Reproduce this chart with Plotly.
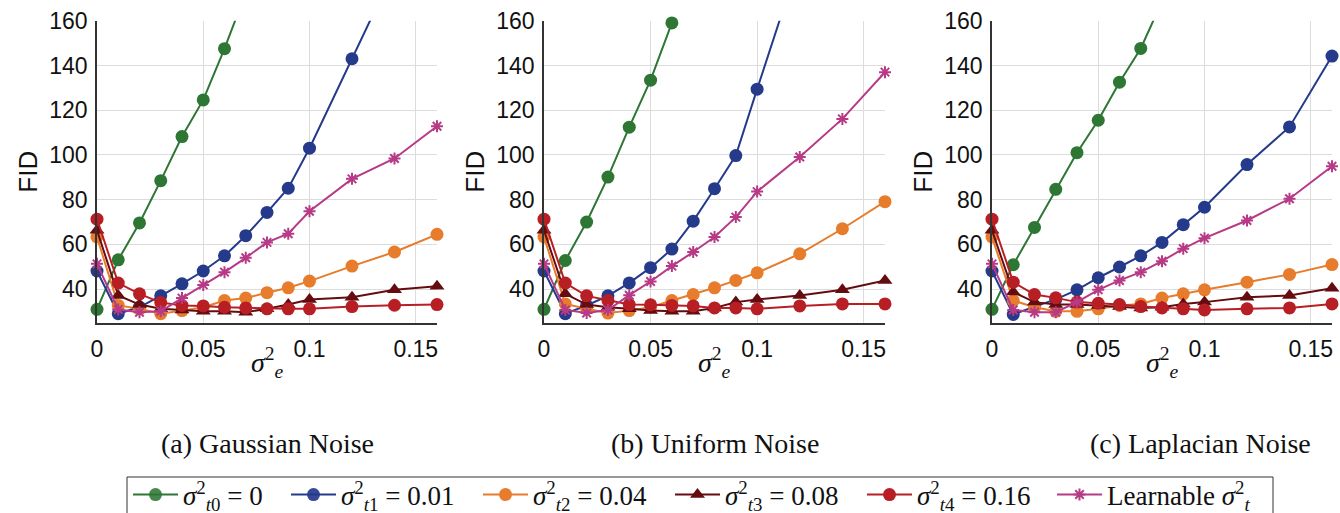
import plotly.graph_objects as go

# ---------------- data ----------------
X = [0, 0.01, 0.02, 0.03, 0.04, 0.05, 0.06, 0.07, 0.08, 0.09, 0.10, 0.12, 0.14, 0.16]

series_names = [
    "<i>σ</i><sup>2</sup><sub><i>t</i>0</sub> = 0",
    "<i>σ</i><sup>2</sup><sub><i>t</i>1</sub> = 0.01",
    "<i>σ</i><sup>2</sup><sub><i>t</i>2</sub> = 0.04",
    "<i>σ</i><sup>2</sup><sub><i>t</i>3</sub> = 0.08",
    "<i>σ</i><sup>2</sup><sub><i>t</i>4</sub> = 0.16",
    "Learnable <i>σ</i><sup>2</sup><sub><i>t</i></sub>",
]

# (a) Gaussian noise
gauss_t0 = [31.0, 53.1, 69.6, 88.5, 108.2, 124.6, 147.5, 172.5]
gauss_t1 = [48.1, 29.0, 32.0, 37.0, 42.4, 48.1, 54.9, 63.9, 74.3, 85.1, 103.0, 143.0, 183.0]
gauss_t2 = [63.3, 32.7, 31.2, 29.0, 30.4, 31.9, 34.9, 36.0, 38.4, 40.6, 43.6, 50.3, 56.6, 64.5]
gauss_t3 = [66.3, 37.2, 33.1, 31.2, 30.7, 30.1, 30.1, 29.7, 31.2, 33.1, 35.4, 36.4, 39.7, 41.3]
gauss_t4 = [71.3, 42.7, 37.9, 34.0, 32.7, 32.5, 31.9, 31.6, 31.2, 31.2, 31.2, 32.2, 32.8, 33.1]
gauss_lr = [51.3, 30.9, 29.7, 30.1, 36.0, 41.9, 47.6, 54.0, 60.9, 64.8, 74.8, 89.3, 98.4, 112.8]

# (b) Uniform noise
unif_t0 = [31.0, 52.8, 70.0, 90.1, 112.4, 133.4, 159.0, 185.0]
unif_t1 = [48.1, 29.0, 32.7, 37.0, 42.8, 49.6, 57.9, 70.4, 84.9, 99.7, 129.4, 187.7]
unif_t2 = [63.3, 33.4, 31.2, 29.3, 30.4, 31.9, 34.9, 37.6, 40.6, 43.9, 47.3, 55.8, 67.0, 79.1]
unif_t3 = [66.3, 37.9, 33.1, 31.9, 31.2, 30.4, 30.1, 30.1, 31.6, 34.2, 35.4, 37.2, 39.7, 43.9]
unif_t4 = [71.3, 42.7, 37.0, 34.9, 33.1, 33.0, 32.7, 32.5, 31.6, 31.6, 31.2, 32.5, 33.4, 33.4]
unif_lr = [51.3, 30.7, 29.3, 30.7, 37.3, 43.4, 50.3, 56.6, 63.3, 72.2, 83.6, 99.1, 116.1, 137.0]

# (c) Laplacian noise
lap_t0 = [31.0, 50.9, 67.6, 84.6, 101.0, 115.5, 132.5, 147.6, 168.6]
lap_t1 = [48.1, 28.7, 32.2, 35.4, 39.7, 45.1, 49.9, 54.9, 60.9, 68.8, 76.6, 95.7, 112.5, 144.2]
lap_t2 = [63.3, 34.9, 31.9, 30.1, 30.1, 31.2, 32.7, 33.4, 36.0, 37.9, 39.7, 43.1, 46.6, 51.0]
lap_t3 = [66.3, 38.7, 34.2, 33.1, 33.1, 32.7, 32.2, 31.6, 31.9, 33.4, 34.2, 36.4, 37.2, 40.4]
lap_t4 = [71.3, 43.1, 37.6, 36.1, 34.2, 33.7, 33.1, 32.2, 31.6, 31.2, 30.7, 31.2, 31.6, 33.4]
lap_lr = [51.3, 30.7, 29.7, 29.7, 34.2, 39.7, 43.9, 47.6, 52.5, 58.1, 62.8, 70.7, 80.4, 94.9]

panels = [
    [gauss_t0, gauss_t1, gauss_t2, gauss_t3, gauss_t4, gauss_lr],
    [unif_t0, unif_t1, unif_t2, unif_t3, unif_t4, unif_lr],
    [lap_t0, lap_t1, lap_t2, lap_t3, lap_t4, lap_lr],
]
captions = ["(a) Gaussian Noise", "(b) Uniform Noise", "(c) Laplacian Noise"]
x_ticks = [0, 0.05, 0.1, 0.15]
x_tick_text = ["0", "0.05", "0.1", "0.15"]
y_ticks = [40, 60, 80, 100, 120, 140, 160]

# ---------------- style ----------------
W, H = 1340, 513
YMIN, YMAX = 25, 160
XMIN, XMAX = 0, 0.16
colors = ["#2d7634", "#253a8b", "#e67c2c", "#650c10", "#b81f25", "#b73a86"]
symbols = ["circle", "circle", "circle", "triangle-up", "circle", "asterisk"]
msizes = [13, 13, 13, 13, 13, 10]

x_px = [(97, 437), (544, 885), (992, 1332)]
caption_cx_px = [267, 715, 1200]
y_top_px, y_bot_px = 20.7, 322.7
legend_x_px = [128, 286, 478, 670, 862, 1052]
legend_box_px = (127, 1273, 477)

SERIF = "Liberation Serif"
SANS = "Liberation Sans, Arial, sans-serif"

fig = go.Figure()

for p, data in enumerate(panels):
    xa = "x" if p == 0 else f"x{p + 1}"
    ya = "y" if p == 0 else f"y{p + 1}"
    for s, ys in enumerate(data):
        xs = X[:len(ys)]
        opac = [1 if (YMIN <= v <= YMAX) else 0 for v in ys]
        if symbols[s] == "asterisk":
            marker = dict(symbol="asterisk", size=msizes[s], color=colors[s],
                          opacity=opac, line=dict(color=colors[s], width=2))
        else:
            marker = dict(symbol=symbols[s], size=msizes[s], color=colors[s],
                          opacity=opac, line=dict(width=0))
        fig.add_trace(go.Scatter(
            x=xs, y=ys, mode="lines+markers",
            name=series_names[s],
            line=dict(color=colors[s], width=2), marker=marker,
            xaxis=xa, yaxis=ya, cliponaxis=False,
            showlegend=(p == 0), legendgroup=str(s),
            legend="legend" if s == 0 else f"legend{s + 1}",
        ))

axis_font = dict(family=SANS, size=23, color="#111")
layout_updates = {}
for p in range(3):
    x0, x1 = x_px[p]
    xkey = "xaxis" if p == 0 else f"xaxis{p + 1}"
    ykey = "yaxis" if p == 0 else f"yaxis{p + 1}"
    layout_updates[xkey] = dict(
        domain=[x0 / W, x1 / W], range=[XMIN, XMAX], anchor="y" if p == 0 else f"y{p + 1}",
        tickvals=x_ticks, ticktext=x_tick_text, tickfont=axis_font,
        showgrid=True, gridcolor="#dcdcdc", gridwidth=1,
        showline=True, linecolor="#333", linewidth=1.5, ticks="",
        zeroline=False, ticklabelstandoff=5, automargin=False,
    )
    layout_updates[ykey] = dict(
        domain=[1 - y_bot_px / H, 1 - y_top_px / H], range=[YMIN, YMAX],
        anchor="x" if p == 0 else f"x{p + 1}",
        tickvals=y_ticks, tickfont=axis_font,
        showgrid=True, gridcolor="#dcdcdc", gridwidth=1,
        showline=True, linecolor="#333", linewidth=1.5, ticks="",
        zeroline=False, ticklabelstandoff=3, automargin=False,
        title=dict(text="FID", font=dict(family=SANS, size=26, color="#111"), standoff=4),
    )
    cx = (x0 + x1) / 2 / W
    fig.add_annotation(x=cx, y=1 - 362 / H, xref="paper", yref="paper",
                       xanchor="center", yanchor="middle",
                       text="<i>σ</i><sup>2</sup><sub><i>e</i></sub>", showarrow=False,
                       font=dict(family=SERIF, size=28, color="#111"))
    fig.add_annotation(x=caption_cx_px[p] / W, y=1 - 443 / H, xref="paper", yref="paper",
                       xanchor="center", yanchor="middle",
                       text=captions[p], showarrow=False,
                       font=dict(family=SERIF, size=28, color="#111"))

# legend frame
bx0, bx1, by0 = legend_box_px
fig.add_shape(type="rect", xref="paper", yref="paper",
              x0=bx0 / W, x1=bx1 / W, y0=1 - by0 / H, y1=1 - (H + 30) / H,
              line=dict(color="#333", width=1), fillcolor="rgba(0,0,0,0)", layer="above")

for s in range(6):
    key = "legend" if s == 0 else f"legend{s + 1}"
    layout_updates[key] = dict(
        orientation="h", x=legend_x_px[s] / W, xanchor="left",
        y=1 - 495 / H, yanchor="middle",
        bgcolor="rgba(0,0,0,0)", borderwidth=0,
        font=dict(family=SERIF, size=27, color="#111"), itemwidth=45,
    )

fig.update_layout(
    width=W, height=H,
    margin=dict(l=0, r=0, t=0, b=0, autoexpand=False),
    paper_bgcolor="white", plot_bgcolor="white",
    font=dict(family=SERIF, size=27, color="#111"),
    showlegend=True,
    **layout_updates,
)

fig.write_html("out.html", config={"displayModeBar": False},
               post_script=["document.body.style.margin='0px';",
                            "document.querySelectorAll('.legendtext').forEach(function(t){t.style.fontFamily='Liberation Serif';});"])
